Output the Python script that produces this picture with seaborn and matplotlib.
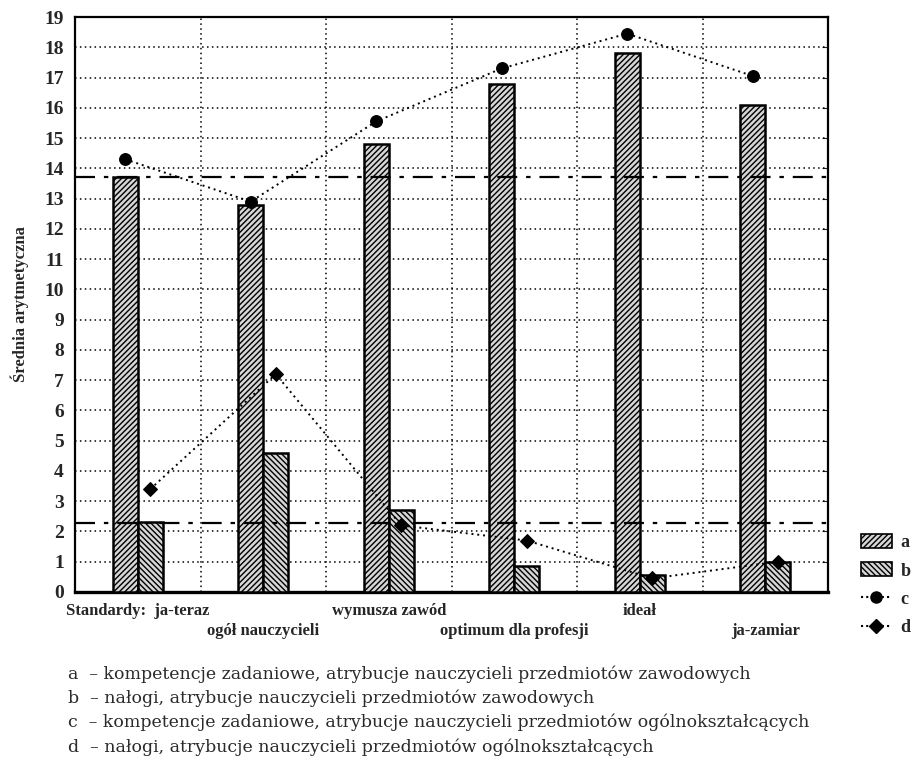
import numpy as np
import pandas as pd
import matplotlib
matplotlib.use("Agg")
import matplotlib.pyplot as plt
import seaborn as sns
from matplotlib.patches import Patch
from matplotlib.lines import Line2D

# ---------------- data ----------------
categories = ["Standardy:  ja-teraz", "ogół nauczycieli", "wymusza zawód",
              "optimum dla profesji", "ideał", "ja-zamiar"]
a_values = [13.7, 12.8, 14.8, 16.8, 17.8, 16.1]
b_values = [2.3, 4.6, 2.7, 0.85, 0.55, 1.0]
c_values = [14.3, 12.9, 15.55, 17.3, 18.45, 17.05]
d_values = [3.4, 7.2, 2.2, 1.7, 0.45, 1.0]
ref_levels = [13.7, 2.27]
series_labels = ["a", "b", "c", "d"]
y_ticks = list(range(0, 20))
y_label = "Średnia arytmetyczna"
descriptions = [
    "a  – kompetencje zadaniowe, atrybucje nauczycieli przedmiotów zawodowych",
    "b  – nałogi, atrybucje nauczycieli przedmiotów zawodowych",
    "c  – kompetencje zadaniowe, atrybucje nauczycieli przedmiotów ogólnokształcących",
    "d  – nałogi, atrybucje nauczycieli przedmiotów ogólnokształcących",
]

# ---------------- style ----------------
sns.set_style("white")
plt.rcParams["font.family"] = ["Liberation Serif", "DejaVu Serif"]
plt.rcParams["hatch.linewidth"] = 1.0
plt.rcParams["hatch.color"] = "black"

W, H = 913, 767
fig = plt.figure(figsize=(W / 100, H / 100), dpi=100)
ax = fig.add_axes([75 / W, 1 - 592 / H, (828 - 75) / W, (592 - 17) / H])

bar_face = "#d6d6d6"
df = pd.DataFrame({
    "cat": categories * 2,
    "val": a_values + b_values,
    "series": ["a"] * len(categories) + ["b"] * len(categories),
})
sns.barplot(data=df, x="cat", y="val", hue="series", order=categories,
            hue_order=["a", "b"], width=0.4, dodge=True,
            palette=[bar_face, bar_face], saturation=1,
            edgecolor="black", linewidth=1.8, legend=False, ax=ax, zorder=3)
hatches = ["//////", "\\\\\\\\\\\\"]
for cont, h in zip(ax.containers, hatches):
    for p in cont:
        p.set_hatch(h)
        p.set_edgecolor("black")

xpos = np.arange(len(categories))
sns.lineplot(x=xpos - 0.1, y=c_values, ax=ax, color="black", linestyle=(0, (1, 2)),
             linewidth=1.4, marker="o", markersize=8.5, markeredgecolor="black",
             markerfacecolor="black", zorder=5, sort=False)
sns.lineplot(x=xpos + 0.1, y=d_values, ax=ax, color="black", linestyle=(0, (1, 2)),
             linewidth=1.4, marker="D", markersize=7.5, markeredgecolor="black",
             markerfacecolor="black", zorder=5, sort=False)

for lv in ref_levels:
    ax.axhline(lv, color="black", linestyle=(0, (9, 4, 2, 4)), linewidth=1.6, zorder=4)

# grid
ax.set_xlim(-0.5, len(categories) - 0.5)
ax.set_ylim(0, 19)
ax.set_yticks(y_ticks)
ax.set_yticklabels([str(t) for t in y_ticks])
ax.set_xticks(xpos)
ax.set_xticks(xpos[:-1] + 0.5, minor=True)
for yv in y_ticks[1:-1]:
    ax.axhline(yv, color="black", linestyle=(0, (1, 2.2)), linewidth=1.1, zorder=1)
ax.grid(which="minor", axis="x", color="black", linestyle=(0, (1, 2.2)), linewidth=1.1)
ax.set_axisbelow(True)

labels = [c if i % 2 == 0 else "\n" + c for i, c in enumerate(categories)]
ax.set_xticklabels(labels, fontsize=12, fontweight="bold")
for t in ax.get_xticklabels():
    t.set_linespacing(1.35)
ax.tick_params(axis="x", which="both", length=0, pad=8)
ax.tick_params(axis="y", which="major", length=4, direction="in", right=True,
               labelsize=14, pad=8)
for t in ax.get_yticklabels():
    t.set_fontweight("bold")
ax.set_xlabel("")
ax.set_ylabel(y_label, fontsize=12, fontweight="bold", labelpad=11)

for s in ["top", "left", "right"]:
    ax.spines[s].set_visible(True)
    ax.spines[s].set_color("black")
    ax.spines[s].set_linewidth(1.6)
ax.spines["bottom"].set_color("black")
ax.spines["bottom"].set_linewidth(2.4)

# legend
handles = [
    Patch(facecolor=bar_face, edgecolor="black", hatch=hatches[0], linewidth=1.2),
    Patch(facecolor=bar_face, edgecolor="black", hatch=hatches[1], linewidth=1.2),
    Line2D([], [], color="black", linestyle=(0, (1, 1.5)), marker="o", markersize=8),
    Line2D([], [], color="black", linestyle=(0, (1, 1.5)), marker="D", markersize=7),
]
fig.legend(handles, series_labels, loc="upper left",
           bbox_to_anchor=(861 / W, 1 - 534 / H), frameon=False,
           borderpad=0, borderaxespad=0,
           prop={"family": "Liberation Serif", "weight": "bold", "size": 13},
           handlelength=1.7, handleheight=0.8, labelspacing=0.62, handletextpad=0.5)

# descriptions
desc_y = [674, 698, 722, 747]
for txt, yy in zip(descriptions, desc_y):
    fig.text(68 / W, 1 - yy / H, txt, fontsize=12.5, family="DejaVu Serif",
             va="center", ha="left", color="#2a2a2a")

fig.savefig("out.png", dpi=100)
